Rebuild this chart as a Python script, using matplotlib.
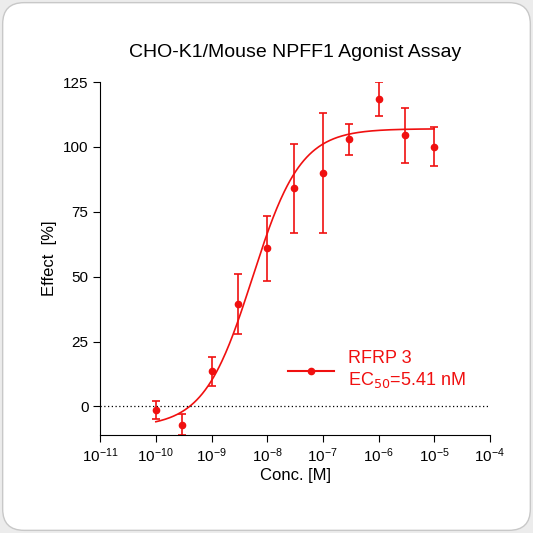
import numpy as np
import matplotlib
matplotlib.use("Agg")
import matplotlib.pyplot as plt
from matplotlib.patches import FancyBboxPatch

plt.rcParams["font.family"] = ["Liberation Sans", "DejaVu Sans"]

conc = [1e-10, 3e-10, 1e-9, 3e-9, 1e-8, 3e-8, 1e-7, 3e-7, 1e-6, 3e-6, 1e-5]
effect = [-1.5, -7, 13.5, 39.5, 61, 84, 90, 103, 118.5, 104.5, 100]
err = [3.5, 4, 5.5, 11.5, 12.5, 17, 23, 6, 6.5, 10.5, 7.5]
bottom, top, ec50, hill = -8.0, 107.0, 5.41e-9, 1.0

red = "#f01010"
fig = plt.figure(figsize=(5.33, 5.33), dpi=100)
fig.patch.set_facecolor("#ececec")
bg = FancyBboxPatch((0.005, 0.005), 0.99, 0.99, boxstyle="round,pad=0,rounding_size=0.04",
                    transform=fig.transFigure, facecolor="white", edgecolor="#c8c8c8", lw=1, zorder=-10)
fig.patches.append(bg)
ax = fig.add_axes([0.188, 0.184, 0.731, 0.662])
ax.set_facecolor("none")

xs = np.logspace(-10, -5, 300)
ys = bottom + (top - bottom) / (1 + (ec50 / xs) ** hill)
ax.plot(xs, ys, color=red, lw=1.2)
ax.errorbar(conc, effect, yerr=err, fmt="o", color=red, ms=4.5, capsize=3, elinewidth=1.2, capthick=1.2)
ax.axhline(0, color="black", lw=0.9, ls=(0, (1, 2)))
ax.plot([], [], "o-", color=red, ms=4.5, label="RFRP 3\nEC$_{50}$=5.41 nM")

ax.set_xscale("log")
ax.set_xlim(1e-11, 1e-4)
ax.set_ylim(-11, 125)
ax.set_xticks([10.0 ** e for e in range(-11, -3)])
ax.xaxis.set_minor_locator(matplotlib.ticker.NullLocator())
ax.set_yticks([0, 25, 50, 75, 100, 125])
for s in ["top", "right"]:
    ax.spines[s].set_visible(False)
ax.tick_params(direction="out", length=5, labelsize=11)
ax.set_xlabel("Conc. [M]", fontsize=12, labelpad=2)
ax.set_ylabel("Effect  [%]", fontsize=12)
ax.set_title("CHO-K1/Mouse NPFF1 Agonist Assay", fontsize=14, pad=18)
leg = ax.legend(loc="lower right", bbox_to_anchor=(0.98, 0.08), frameon=False, fontsize=13,
                labelcolor=red, handlelength=2.5)
fig.savefig("out.png", dpi=100)
